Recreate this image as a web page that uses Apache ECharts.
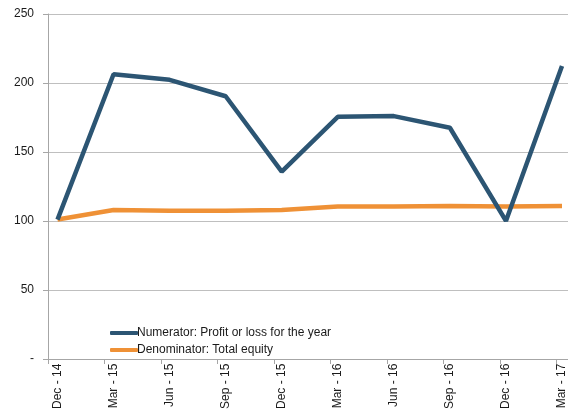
<!DOCTYPE html>
<html>
<head>
<meta charset="utf-8">
<script src="https://cdn.jsdelivr.net/npm/echarts@6/dist/echarts.min.js"></script>
<style>
  html, body { margin: 0; padding: 0; background: #fff; overflow: hidden; }
  #chart { width: 568px; height: 412px; }
</style>
</head>
<body>
<div id="chart"></div>
<script>
// Quarter-end labels
const quarters = ['Dec - 14', 'Mar - 15', 'Jun - 15', 'Sep - 15', 'Dec - 15',
                  'Mar - 16', 'Jun - 16', 'Sep - 16', 'Dec - 16', 'Mar - 17'];
// Indexed series (Dec-14 = 100)
const numerator = [100, 206, 202, 190, 135, 175, 175.5, 167, 99, 212];
const denominator = [100, 107, 106.5, 106.5, 107, 109.5, 109.5, 110, 109.5, 110];
const numeratorName = 'Numerator: Profit or loss for the year';
const denominatorName = 'Denominator: Total equity';
const yTicks = [0, 50, 100, 150, 200, 250];

const font = '"Liberation Sans", "DejaVu Sans", sans-serif';
const textColor = '#1a1a1a';
const axisGrey = '#a6a6a6';

const chart = echarts.init(document.getElementById('chart'), null, { renderer: 'canvas' });

chart.setOption({
  animation: false,
  backgroundColor: '#fff',
  grid: [
    // frame: value axis, gridlines, category tick marks
    { left: 48, right: 0, top: 14, bottom: 53, containLabel: false },
    // data area: series and quarter labels
    { left: 57.5, width: 509, top: 14, bottom: 53, containLabel: false }
  ],
  legend: {
    orient: 'vertical',
    left: 105,
    top: 322,
    itemWidth: 28,
    itemHeight: 4,
    itemGap: 5,
    icon: 'roundRect',
    textStyle: { fontFamily: font, fontSize: 12, color: textColor, padding: [0, 0, 0, -6] },
    data: [numeratorName, denominatorName]
  },
  xAxis: [
    {
      type: 'value',
      gridIndex: 0,
      min: 0,
      max: 520 / 56.5,
      interval: 1,
      axisLine: { show: true, lineStyle: { color: axisGrey, width: 1 } },
      axisTick: { show: true, length: 5, lineStyle: { color: axisGrey } },
      axisLabel: { show: false },
      splitLine: { show: false }
    },
    {
      type: 'category',
      gridIndex: 1,
      data: quarters,
      boundaryGap: false,
      axisLine: { show: false },
      axisTick: { show: false },
      axisLabel: {
        rotate: 90,
        margin: 7,
        fontFamily: font,
        fontSize: 12,
        color: textColor,
        interval: 0
      },
      splitLine: { show: false }
    }
  ],
  yAxis: [
    {
      type: 'value',
      gridIndex: 0,
      min: yTicks[0],
      max: yTicks[yTicks.length - 1],
      interval: 50,
      axisLine: { show: true, lineStyle: { color: axisGrey, width: 1 } },
      axisTick: { show: true, length: 5, lineStyle: { color: axisGrey } },
      axisLabel: {
        margin: 14,
        fontFamily: font,
        fontSize: 12,
        color: textColor,
        formatter: v => (v === 0 ? '-' : String(v))
      },
      splitLine: { show: true, lineStyle: { color: '#bfbfbf', width: 1 } }
    },
    {
      type: 'value',
      gridIndex: 1,
      min: yTicks[0],
      max: yTicks[yTicks.length - 1],
      interval: 50,
      show: false
    }
  ],
  series: [
    {
      name: numeratorName,
      type: 'line',
      xAxisIndex: 1,
      yAxisIndex: 1,
      data: numerator,
      symbol: 'none',
      color: '#2c5573',
      lineStyle: { width: 4.5, color: '#2c5573' },
      z: 3
    },
    {
      name: denominatorName,
      type: 'line',
      xAxisIndex: 1,
      yAxisIndex: 1,
      data: denominator,
      symbol: 'none',
      color: '#ef9136',
      lineStyle: { width: 4.5, color: '#ef9136' },
      z: 2
    }
  ]
});
</script>
</body>
</html>
